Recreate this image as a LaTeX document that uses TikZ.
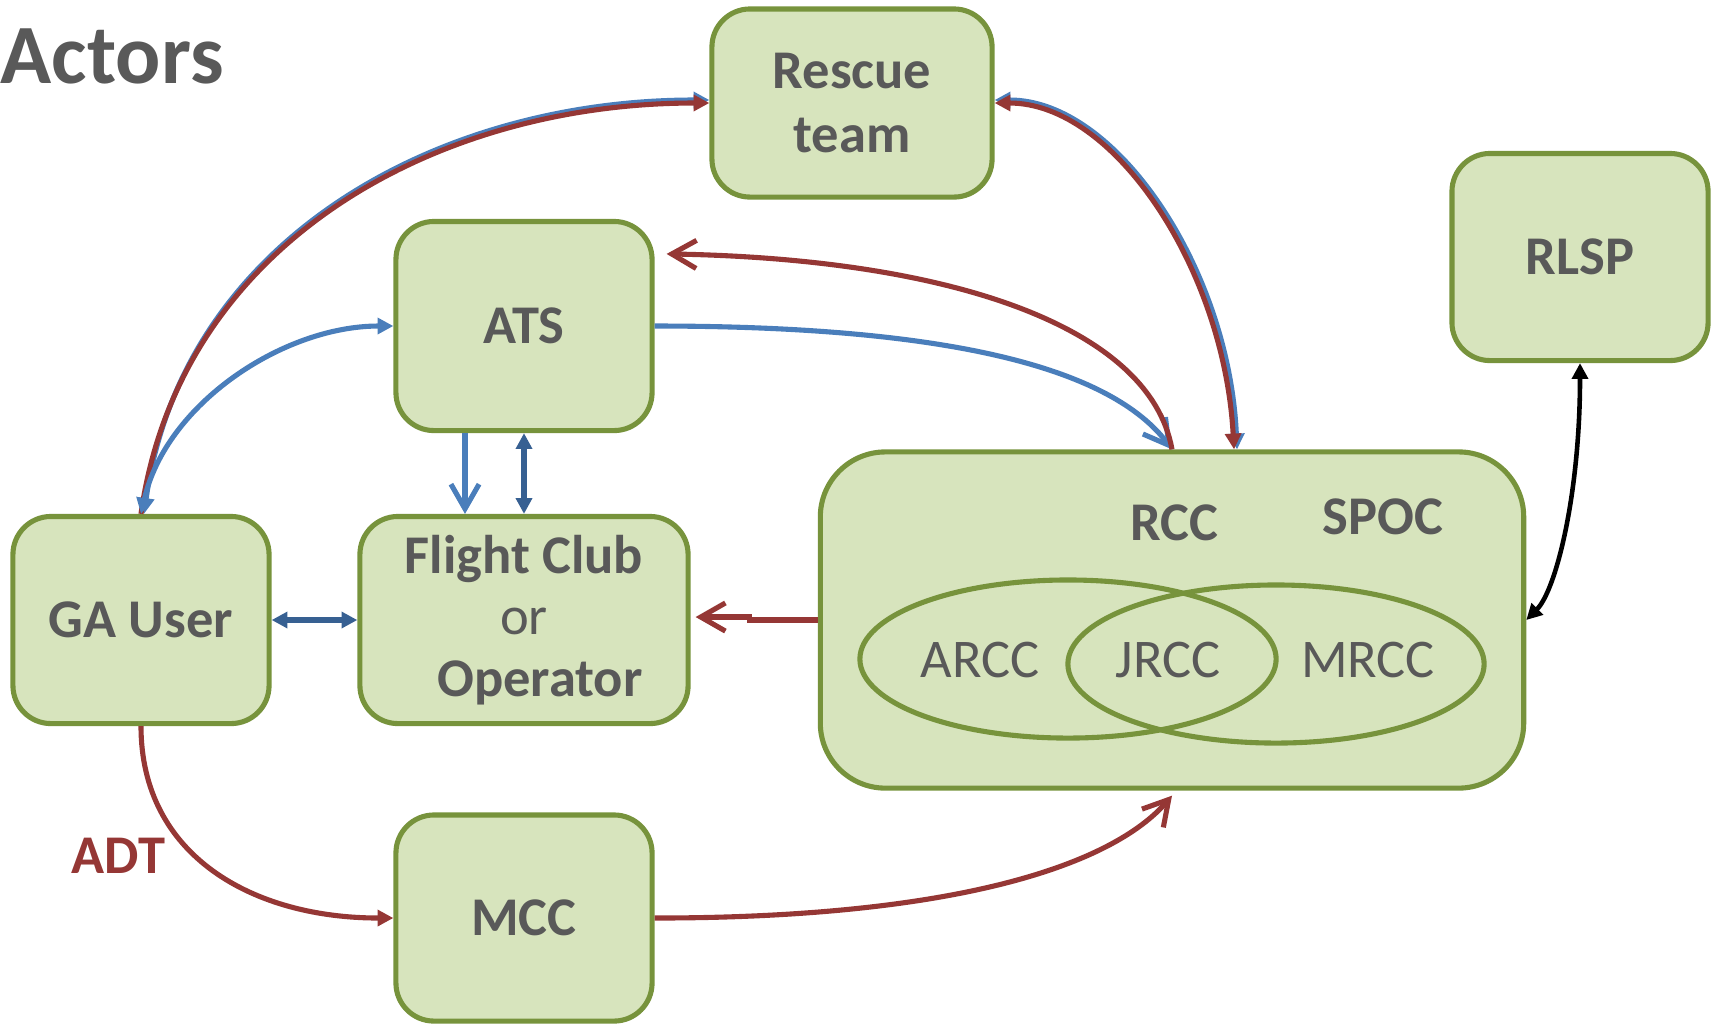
\documentclass[tikz,border=0pt]{standalone}
\usepackage{fontspec}
\setmainfont{Carlito}
\usetikzlibrary{arrows.meta,shapes.geometric,calc}
\definecolor{boxfill}{HTML}{D7E4BD}
\definecolor{boxline}{HTML}{77933C}
\definecolor{txt}{HTML}{595959}
\definecolor{redline}{HTML}{953735}
\definecolor{blueline}{HTML}{4A7EBB}
\definecolor{darkblue}{HTML}{376092}
\tikzset{tri/.tip={Triangle[length=4.5pt,width=4.5pt]},
  barb/.tip={Straight Barb[length=7pt,width=8pt]}}
\begin{document}
\begin{tikzpicture}[x=0.01cm,y=-0.01cm,
  actor/.style={draw=boxline,fill=boxfill,line width=1.45pt,rounded corners=0.38cm,inner sep=0pt,
    text=txt,font=\fontsize{15.5}{18}\selectfont\bfseries,align=center,
    minimum width=2.56cm,minimum height=2.07cm},
  ring/.style={ellipse,draw=boxline,line width=1.45pt,inner sep=0pt,minimum width=4.16cm,minimum height=1.58cm},
  lbl/.style={inner sep=0pt,text=txt,font=\fontsize{15.5}{18}\selectfont\bfseries},
  sublbl/.style={inner sep=0pt,text=txt,font=\fontsize{15.5}{18}\selectfont},
  redlink/.style={draw=redline,line width=1.45pt},
  bluelink/.style={draw=blueline,line width=1.45pt},
  darklink/.style={draw=darkblue,line width=1.45pt},
  blacklink/.style={draw=black,line width=1.3pt}]
  \useasboundingbox (0,0) rectangle (1716,1023);
  \node[inner sep=0pt,anchor=base west,text=txt,font=\fontsize{24}{28}\selectfont\bfseries] (title) at (0,83) {Actors};
  \node[actor,minimum width=2.80cm,minimum height=1.88cm] (rescue) at (852,103) {Rescue\\team};
  \node[actor,minimum height=2.09cm] (ats) at (524,326) {ATS};
  \node[actor] (rlsp) at (1580,257) {RLSP};
  \node[actor] (gauser) at (141,620) {GA User};
  \node[actor,minimum width=3.28cm,font=\fontsize{15.5}{17.5}\selectfont\bfseries] (club) at (524,620)
    {Flight Club\\{\mdseries or}\\\hspace*{0.32cm}Operator};
  \node[actor,minimum height=2.06cm] (mcc) at (524,918) {MCC};
  \node[actor,minimum width=7.03cm,minimum height=3.36cm,rounded corners=0.65cm] (rcc) at (1172,620) {};
  \node[ring] (arccring) at (1068,659) {};
  \node[ring] (mrccring) at (1276,664) {};
  \node[lbl] (rcclbl) at (1174,523) {RCC};
  \node[lbl] (spoc) at (1383,517) {SPOC};
  \node[sublbl] (arcc) at (980,660) {ARCC};
  \node[sublbl] (jrcc) at (1168,660) {JRCC};
  \node[sublbl] (mrcc) at (1368,660) {MRCC};
  \node[inner sep=0pt,anchor=base west,text=redline,font=\fontsize{15.5}{18}\selectfont\bfseries] (adt) at (71,873) {ADT};
  \coordinate (atsin) at ($(ats.north east)+(12,35)$);
  \coordinate (rcctop) at ($(rcc.north)+(62,0)$);
  % GA user and rescue team
  \draw[bluelink,tri-tri] ($(gauser.north)+(3,0)$) .. controls +(38,-272) and +(-275,0) .. ($(rescue.west)+(0,-3)$);
  \draw[redlink,-tri] (gauser.north) .. controls +(38,-270) and +(-275,0) .. (rescue.west);
  \draw[bluelink,tri-tri] (gauser.north) .. controls +(25,-110) and +(-110,0) .. (ats.west);
  \draw[bluelink,-barb] (ats.east) .. controls +(300,0) and +(-60,-80) .. (rcc.north);
  \draw[redlink,-barb] (rcc.north) .. controls +(-22,-122) and +(286,5) .. (atsin);
  \draw[bluelink,tri-tri] ($(rescue.east)+(0,-3)$) .. controls +(122,0) and +(-8,-180) .. ($(rcctop)+(3,0)$);
  \draw[redlink,tri-tri] (rescue.east) .. controls +(120,0) and +(-10,-180) .. (rcctop);
  \draw[bluelink,-barb] ($(ats.south)+(-59,0)$) -- ($(club.north)+(-59,0)$);
  \draw[darklink,tri-tri] (ats.south) -- (club.north);
  \draw[darklink,tri-tri] (gauser.east) -- (club.west);
  \draw[redlink,-barb] (rcc.west) -- ++(-68,0) |- ($(club.east)+(5,-3)$);
  \draw[redlink,-tri] (gauser.south) .. controls +(0,130) and +(-140,0) .. (mcc.west);
  \draw[redlink,-barb] (mcc.east) .. controls +(300,0) and +(-60,70) .. ($(rcc.south)+(0,5)$);
  \draw[blacklink,tri-tri] (rlsp.south) .. controls +(0,130) and +(30,-30) .. (rcc.east);
\end{tikzpicture}
\end{document}
